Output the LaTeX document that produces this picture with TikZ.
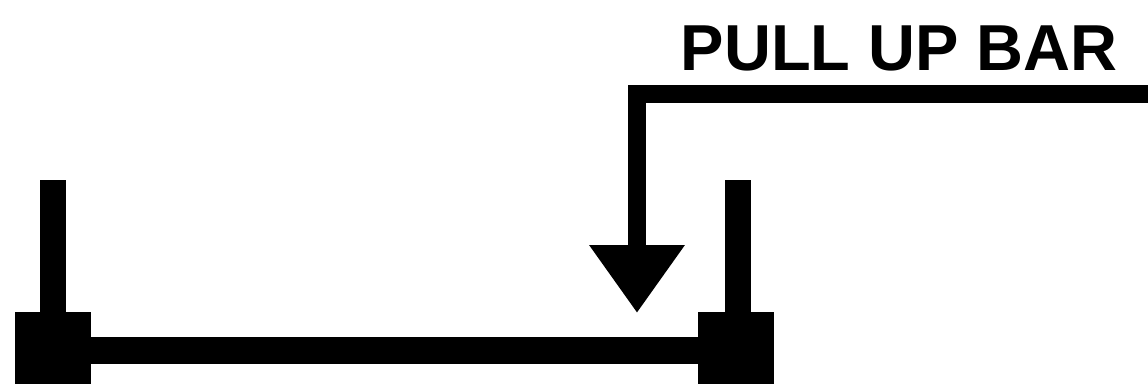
\documentclass[tikz,border=0pt]{standalone}
\usepackage{fontspec}
\setmainfont{Liberation Sans}
\usetikzlibrary{positioning,arrows.meta}

\begin{document}
\begin{tikzpicture}[x=1pt,y=-1pt,
  foot/.style={fill=black, inner sep=0pt, minimum width=76pt, minimum height=72pt},
  post/.style={fill=black, inner sep=0pt, minimum width=26pt, minimum height=132pt},
  bar/.style={line width=27pt},
  leader/.style={line width=18pt, line join=miter, -{Triangle[width=91pt,length=68pt]}},
  title/.style={font=\fontsize{65}{65}\selectfont\bfseries, inner sep=0pt}
]
\useasboundingbox (0,0) rectangle (1148,384);
% feet and posts
\node[foot] (leftfoot) at (52.5,348) {};
\node[foot] (rightfoot) at (736,348) {};
\node[post, above=0pt of leftfoot] (leftpost) {};
\node[post, above=0pt of rightfoot, xshift=1.5pt] (rightpost) {};
\draw[bar] ([yshift=-2.5pt]leftfoot.east) -- ([yshift=-2.5pt]rightfoot.west);
% label with pointer
\node[title, anchor=base east] (label) at (1118,70.7) {PULL UP BAR};
\coordinate (start) at (1148,94.3);
\coordinate (tip) at (637,313);
\draw[leader] (start) -| (tip);
\end{tikzpicture}
\end{document}
